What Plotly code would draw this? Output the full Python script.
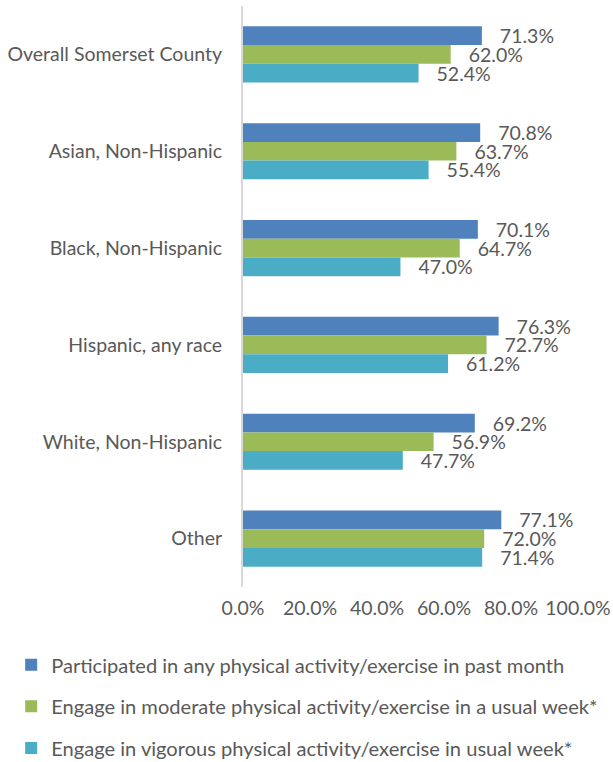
import plotly.graph_objects as go

categories = ["Overall Somerset County", "Asian, Non-Hispanic", "Black, Non-Hispanic",
              "Hispanic, any race", "White, Non-Hispanic", "Other"]
series_names = ["Participated in any physical activity/exercise in past month",
                "Engage in moderate physical activity/exercise in a usual week*",
                "Engage in vigorous physical activity/exercise in usual week*"]
any_activity = [71.3, 70.8, 70.1, 76.3, 69.2, 77.1]
moderate = [62.0, 63.7, 64.7, 72.7, 56.9, 72.0]
vigorous = [52.4, 55.4, 47.0, 61.2, 47.7, 71.4]
colors = ["#4f81bd", "#9bbb59", "#4bacc6"]
tick_vals = [0, 20, 40, 60, 80, 100]
tick_text = ["0.0%", "20.0%", "40.0%", "60.0%", "80.0%", "100.0%"]

FONT = "Lato"
TXT = "#595959"
FS = 19.5

fig = go.Figure()
for i, (name, vals) in enumerate(zip(series_names, [any_activity, moderate, vigorous])):
    fig.add_trace(go.Bar(
        y=categories, x=vals, name=name, orientation="h",
        marker=dict(color=colors[i], line=dict(width=0)),
        text=vals, texttemplate="\u00a0\u00a0\u00a0%{x:.1f}%", textposition="outside",
        textfont=dict(family=FONT, size=FS, color=TXT), constraintext="none",
        cliponaxis=False, legendgroup=str(i),
    ))

fig.update_layout(
    width=613, height=762,
    margin=dict(l=243, r=35, t=6, b=175, autoexpand=False),
    barmode="group", bargap=0.42, bargroupgap=0,
    plot_bgcolor="white", paper_bgcolor="white",
    font=dict(family=FONT, size=FS, color=TXT),
    showlegend=True,
    legend=dict(orientation="v", x=-0.692, xanchor="left", y=-0.1, yanchor="top",
                font=dict(family=FONT, size=20.1, color=TXT),
                tracegroupgap=12.5, itemwidth=30, traceorder="grouped"),
)
fig.update_xaxes(range=[0, 100], tickvals=tick_vals, ticktext=tick_text,
                 showgrid=False, zeroline=False, showline=False, automargin=False,
                 tickfont=dict(family=FONT, size=FS, color=TXT), ticks="",
                 ticklabelstandoff=7)
fig.update_yaxes(autorange="reversed", showgrid=False, zeroline=False, automargin=False,
                 showline=True, linecolor="#d9d9d9", linewidth=2, ticks="",
                 tickfont=dict(family=FONT, size=FS, color=TXT), ticklabelstandoff=15)
fig.write_html("out.html", config={"displayModeBar": False},
               post_script="document.body.style.margin='0';")
